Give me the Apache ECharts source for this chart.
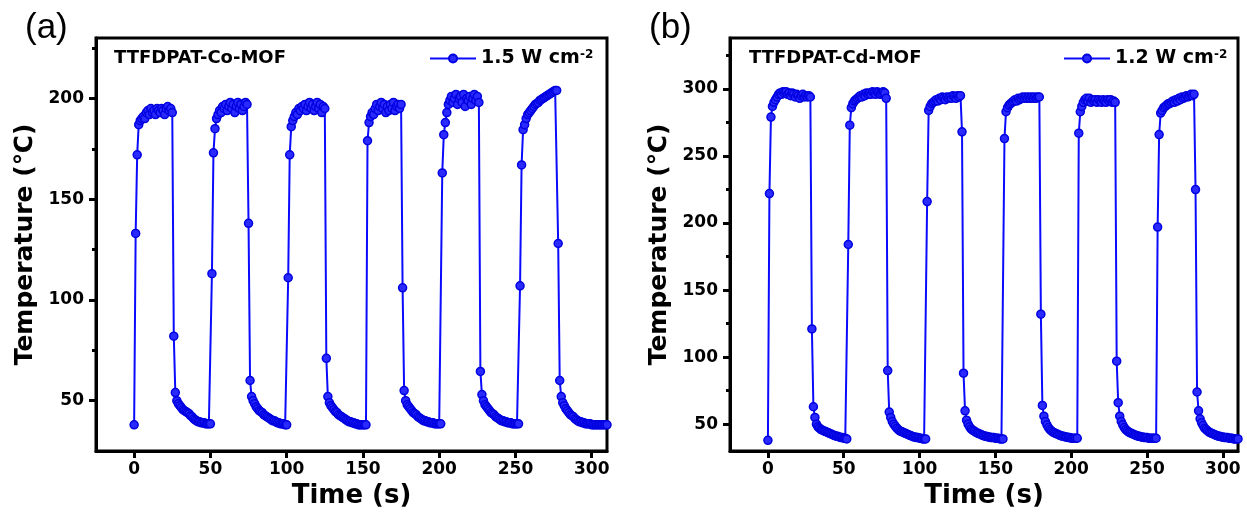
<!DOCTYPE html>
<html>
<head>
<meta charset="utf-8">
<title>photothermal cycles</title>
<script src="https://cdn.jsdelivr.net/npm/echarts@6/dist/echarts.min.js"></script>
<style>
  html, body { margin: 0; padding: 0; background: #fff; }
  #main { width: 1247px; height: 521px; }
</style>
</head>
<body>
<div id="main"></div>
<script>
// sampling step of the recorder (s)
var STEP = 1;

// (a) TTFDPAT-Co-MOF, 1.5 W cm-2, one value per second from t = 0
var tempCo = [
  38, 133, 172, 187, 189, 190, 191, 190, 193, 194,
  192, 195, 193, 194, 192, 195, 194, 193, 195, 194,
  192, 195, 196, 194, 195, 193, 82, 54, 50, 48.5,
  47.5, 46.5, 45.5, 45, 44.5, 44, 43.5, 42.5, 42, 41,
  40.5, 40, 39.5, 39.5, 39, 39, 39, 38.5, 38.5, 38.5,
  38.5, 113, 173, 185, 190, 192, 194, 193, 196, 195,
  197, 194, 196, 198, 195, 197, 193, 196, 198, 195,
  197, 194, 196, 198, 197, 138, 60, 52, 50, 48.5,
  47, 46, 45, 44.5, 44, 43, 42.5, 42, 41.5, 41,
  40.5, 40, 40, 39.5, 39, 39, 38.5, 38.5, 38.5, 38,
  38, 111, 172, 186, 189, 191, 193, 192, 195, 194,
  196, 195, 197, 194, 196, 198, 195, 197, 194, 196,
  198, 195, 197, 193, 196, 195, 71, 52, 49, 47.5,
  46.5, 45.5, 44.5, 44, 43, 42.5, 42, 41.5, 41, 40.5,
  40, 39.5, 39.5, 39, 39, 38.5, 38.5, 38, 38, 38,
  38, 38, 38, 179, 188, 191, 193, 192, 195, 197,
  194, 196, 198, 195, 197, 193, 196, 194, 197, 195,
  198, 194, 196, 197, 195, 197, 106, 55, 50, 48,
  47, 46, 45, 44, 43.5, 43, 42, 41.5, 41, 40.5,
  40, 40, 39.5, 39.5, 39, 39, 39, 38.5, 38.5, 38.5,
  38.5, 38.5, 163, 182, 188, 193, 197, 199, 201, 198,
  200, 202, 197, 200, 201, 198, 202, 196, 200, 199,
  201, 197, 200, 202, 199, 201, 198, 64.5, 53, 50,
  48, 47, 46, 45, 44, 43.5, 43, 42, 41.5, 41,
  40.5, 40, 40, 39.5, 39.5, 39, 39, 39, 38.5, 38.5,
  38.5, 38.5, 38.5, 107, 167, 184.5, 187, 190, 192, 193,
  194, 195, 196, 197, 197.5, 198, 199, 199.5, 200, 200.5,
  201, 201.5, 202, 202.5, 203, 203.5, 204, 204, 128, 60,
  52, 49, 47.5, 46, 45, 44, 43, 42.5, 42, 41,
  40.5, 40, 39.5, 39.5, 39, 39, 38.5, 38.5, 38.5, 38.5,
  38, 38, 38, 38, 38, 38, 38, 38, 38, 38,
  38, 38
];

// (b) TTFDPAT-Cd-MOF, 1.2 W cm-2
var tempCd = [
  38, 222, 279, 287, 290, 292, 294, 296, 297, 296,
  298, 297, 298, 296, 297, 295, 297, 296, 294, 296,
  295, 293, 295, 296, 294, 295, 294, 295, 294, 121,
  63, 55, 50, 48, 47, 46, 45.5, 45, 44.5, 44,
  43.5, 43, 42.5, 42, 41.5, 41, 41, 40.5, 40, 40,
  39.5, 39.5, 39, 184, 273, 286, 289, 291, 292, 293,
  294, 295, 294, 296, 295, 297, 296, 297, 296, 298,
  297, 296, 298, 297, 296, 297, 298, 297, 293, 90,
  59, 55, 52, 50, 48.5, 47, 46, 45, 44.5, 44,
  43.5, 43, 42.5, 42, 41.5, 41, 40.5, 40.5, 40, 40,
  39.5, 39.5, 39, 39, 39, 216, 284, 287, 289, 290,
  291, 292, 291, 293, 292, 294, 293, 292, 294, 293,
  294, 293, 295, 294, 293, 295, 294, 295, 268, 88,
  60, 53, 50, 48, 46.5, 45.5, 45, 44, 43.5, 43,
  42.5, 42, 41.5, 41, 41, 40.5, 40.5, 40, 40, 40,
  39.5, 39.5, 39.5, 39, 39, 39, 263, 283, 286, 288,
  289, 290, 291, 292, 291, 293, 292, 293, 294, 293,
  294, 293, 294, 293, 294, 293, 294, 293, 294, 294,
  132, 64, 56, 52, 49.5, 47.5, 46, 45, 44, 43.5,
  43, 42.5, 42, 41.5, 41, 41, 40.5, 40.5, 40, 40,
  39.5, 39.5, 39.5, 39.5, 39.5, 267, 283, 287, 290, 292,
  293, 291, 293, 290, 292, 291, 292, 290, 292, 291,
  290, 292, 291, 290, 292, 291, 292, 290, 291, 290,
  97, 66, 56, 52, 49.5, 47.5, 46, 45, 44, 43.5,
  43, 42.5, 42, 41.5, 41, 41, 40.5, 40.5, 40, 40,
  40, 39.5, 39.5, 39.5, 39.5, 39.5, 39.5, 197, 266, 282,
  284, 286, 287, 288, 289, 289, 290, 291, 290, 292,
  291, 293, 292, 294, 293, 294, 295, 294, 295, 296,
  295, 296, 225, 74, 60, 54, 51, 49, 47, 46,
  45, 44, 43.5, 43, 42.5, 42, 41.5, 41, 41, 40.5,
  40.5, 40, 40, 40, 39.5, 39.5, 39.5, 39, 39, 39,
  39, 38.5, 38.5
];

var timeTicks = [0, 50, 100, 150, 200, 250, 300];
var tempTicksCo = [50, 100, 150, 200];
var tempMinorCo = [75, 125, 175, 225];
var tempTicksCd = [50, 100, 150, 200, 250, 300];
var tempMinorCd = [75, 125, 175, 225, 275, 325];

var FONT = 'DejaVu Sans';

function pairs(arr) {
  return arr.map(function (v, i) { return [i * STEP, v]; });
}

function xAxisFor(gridIndex) {
  return {
    gridIndex: gridIndex,
    type: 'value',
    min: -25,
    max: 310,
    name: 'Time (s)',
    nameLocation: 'middle',
    nameGap: 27,
    nameTextStyle: { fontFamily: FONT, fontWeight: 'bold', fontSize: 26, color: '#000' },
    axisLine: { onZero: false, lineStyle: { color: '#000', width: 3 } },
    axisTick: { customValues: timeTicks, length: 7, lineStyle: { width: 3, color: '#000' } },
    axisLabel: { customValues: timeTicks, margin: 10, fontFamily: FONT, fontWeight: 'bold', fontSize: 17, color: '#000' },
    splitLine: { show: false }
  };
}

function yAxisFor(gridIndex, min, max, ticks) {
  return {
    gridIndex: gridIndex,
    type: 'value',
    min: min,
    max: max,
    name: 'Temperature (℃)',
    nameLocation: 'middle',
    nameGap: 58,
    nameTextStyle: { fontFamily: FONT, fontWeight: 'bold', fontSize: 25, color: '#000' },
    axisLine: { onZero: false, lineStyle: { color: '#000', width: 3 } },
    axisTick: { customValues: ticks, length: 7, lineStyle: { width: 3, color: '#000' } },
    axisLabel: { customValues: ticks, margin: 12, fontFamily: FONT, fontWeight: 'bold', fontSize: 17, color: '#000' },
    splitLine: { show: false }
  };
}

// second axis only to draw the short minor ticks
function minorAxisFor(gridIndex, min, max, ticks) {
  return {
    gridIndex: gridIndex,
    type: 'value',
    position: 'left',
    offset: 0,
    min: min,
    max: max,
    axisLine: { show: false, onZero: false },
    axisTick: { customValues: ticks, length: 4, lineStyle: { width: 3, color: '#000' } },
    axisLabel: { show: false },
    splitLine: { show: false }
  };
}

function lineSeries(name, xi, yi, data) {
  return {
    name: name,
    type: 'line',
    xAxisIndex: xi,
    yAxisIndex: yi,
    data: pairs(data),
    symbol: 'circle',
    symbolSize: 8,
    showAllSymbol: true,
    lineStyle: { color: '#0a0aff', width: 2 },
    itemStyle: { color: '#2a2aff', borderColor: '#0000e0', borderWidth: 1.5 },
    z: 3
  };
}

var legendText = {
  fontFamily: FONT, fontWeight: 'bold', fontSize: 19, color: '#000',
  rich: { sup: { fontFamily: FONT, fontWeight: 'bold', fontSize: 12, color: '#000', verticalAlign: 'top' } }
};

var option = {
  animation: false,
  backgroundColor: '#fff',
  title: [
    { text: '(a)', left: 20, top: 6, textStyle: { fontFamily: 'Liberation Sans', fontWeight: 'normal', fontSize: 35, color: '#000' } },
    { text: '(b)', left: 644, top: 6, textStyle: { fontFamily: 'Liberation Sans', fontWeight: 'normal', fontSize: 35, color: '#000' } },
    { text: 'TTFDPAT-Co-MOF', left: 109, top: 44, textStyle: { fontFamily: FONT, fontWeight: 'bold', fontSize: 18, color: '#000' } },
    { text: 'TTFDPAT-Cd-MOF', left: 744, top: 44, textStyle: { fontFamily: FONT, fontWeight: 'bold', fontSize: 18, color: '#000' } }
  ],
  legend: [
    {
      data: ['1.5 W cm-2'], left: 424, top: 44, itemWidth: 46, itemHeight: 10,
      formatter: function (n) { return n.replace('-2', '{sup|-2}'); },
      textStyle: legendText
    },
    {
      data: ['1.2 W cm-2'], left: 1058, top: 44, itemWidth: 46, itemHeight: 10,
      formatter: function (n) { return n.replace('-2', '{sup|-2}'); },
      textStyle: legendText
    }
  ],
  grid: [
    { left: 96, top: 38, width: 511, height: 413, show: true, borderColor: '#000', borderWidth: 3 },
    { left: 730, top: 38, width: 508, height: 413, show: true, borderColor: '#000', borderWidth: 3 }
  ],
  xAxis: [xAxisFor(0), xAxisFor(1)],
  yAxis: [
    yAxisFor(0, 25, 230, tempTicksCo),
    minorAxisFor(0, 25, 230, tempMinorCo),
    yAxisFor(1, 30, 338, tempTicksCd),
    minorAxisFor(1, 30, 338, tempMinorCd)
  ],
  series: [
    lineSeries('1.5 W cm-2', 0, 0, tempCo),
    lineSeries('1.2 W cm-2', 1, 2, tempCd)
  ]
};

var myChart = echarts.init(document.getElementById('main'), null, { renderer: 'canvas' });
myChart.setOption(option);
</script>
</body>
</html>
